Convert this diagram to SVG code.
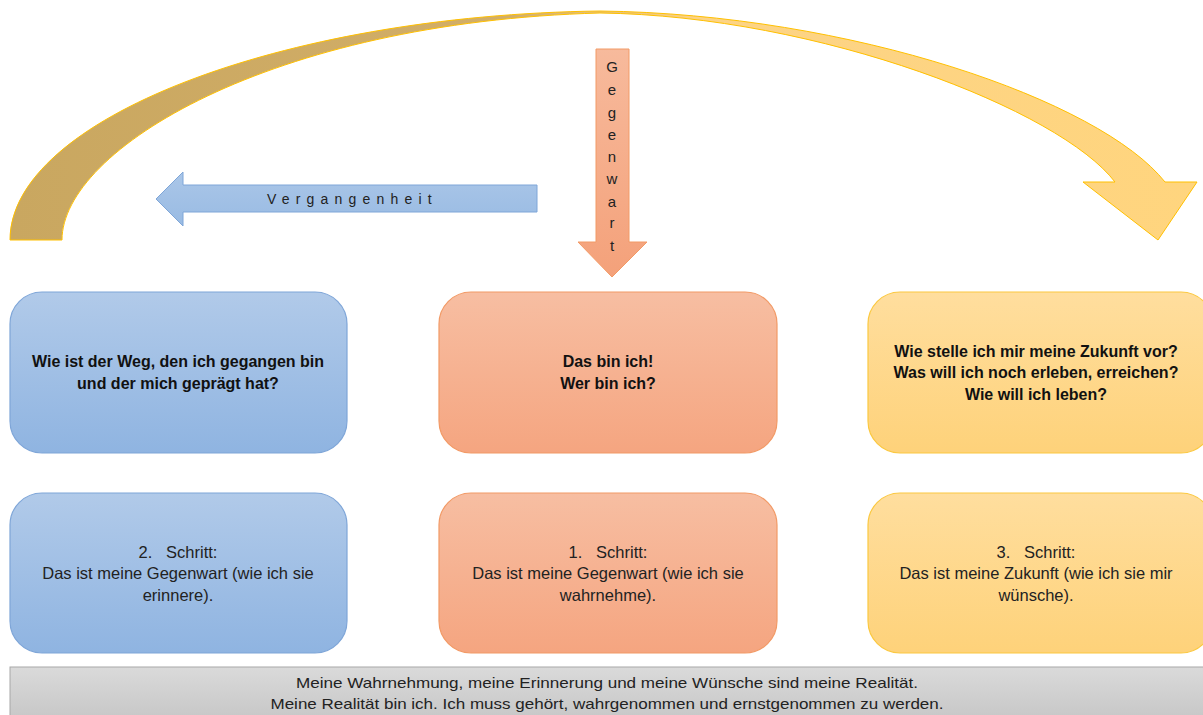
<svg xmlns="http://www.w3.org/2000/svg" width="1203" height="715" viewBox="0 0 1203 715">
<style>
.t{font-family:"Liberation Sans",Arial,sans-serif;fill:#111;text-anchor:middle}
.b{font-weight:bold;font-size:16px}
.r{font-size:16.5px;fill:#222}
.bl{stroke:#7FA6D8;stroke-width:1.2}
.or{stroke:#F29A66;stroke-width:1.2}
.ye{stroke:#FBC840;stroke-width:1.2}
</style>
<defs>
<linearGradient id="gBlue" x1="0" y1="0" x2="0" y2="1"><stop offset="0" stop-color="#B1CAE9"/><stop offset="1" stop-color="#8FB4E1"/></linearGradient>
<linearGradient id="gOr" x1="0" y1="0" x2="0" y2="1"><stop offset="0" stop-color="#F7BEA2"/><stop offset="1" stop-color="#F5A580"/></linearGradient>
<linearGradient id="gYe" x1="0" y1="0" x2="0" y2="1"><stop offset="0" stop-color="#FFDE9E"/><stop offset="1" stop-color="#FED27A"/></linearGradient>
<linearGradient id="gGray" x1="0" y1="0" x2="0" y2="1"><stop offset="0" stop-color="#DADADA"/><stop offset="1" stop-color="#C4C4C4"/></linearGradient>
<linearGradient id="gArc" x1="10" y1="0" x2="1197" y2="0" gradientUnits="userSpaceOnUse"><stop offset="0" stop-color="#C9A760"/><stop offset="0.42" stop-color="#D2AE68"/><stop offset="0.58" stop-color="#FCD386"/><stop offset="1" stop-color="#FFD57E"/></linearGradient>
<linearGradient id="gVer" x1="0" y1="0" x2="0" y2="1"><stop offset="0" stop-color="#AAC6E8"/><stop offset="1" stop-color="#99BBE3"/></linearGradient>
<linearGradient id="gGeg" x1="0" y1="0" x2="0" y2="1"><stop offset="0" stop-color="#F7BA9C"/><stop offset="1" stop-color="#F4A17A"/></linearGradient>
</defs>
<g id="connectors">
<path id="arc" d="M10,240 C10,120 280,15 600,11 C850,14 1100,100 1165,182 L1197,182 L1158,240 L1083,182 L1115,182 C1060,110 820,16 600,13 C270,22 62,150 62,240 Z" fill="url(#gArc)" stroke="#FFC000" stroke-width="1"/>
<g id="vergangenheit">
<path d="M537,185 L183,185 L183,172 L156,199 L183,226 L183,212 L537,212 Z" fill="url(#gVer)" stroke="#7FA6D8" stroke-width="1"/>
<text class="t" x="267" y="204" style="text-anchor:start;font-size:14px;letter-spacing:6.2px;fill:#222">Vergangenheit</text>
</g>
<g id="gegenwart">
<path d="M596,49 L629,49 L629,242 L647,242 L612,277 L578,242 L596,242 Z" fill="url(#gGeg)" stroke="#F29A66" stroke-width="1"/>
<text class="t" style="font-size:15px;fill:#222"><tspan x="612" y="72">G</tspan><tspan x="612" y="95">e</tspan><tspan x="612" y="118">g</tspan><tspan x="612" y="140">e</tspan><tspan x="612" y="162">n</tspan><tspan x="612" y="184">w</tspan><tspan x="612" y="207">a</tspan><tspan x="612" y="228">r</tspan><tspan x="612" y="251">t</tspan></text>
</g>
</g>
<g id="n-past-q">
<rect x="10" y="292" width="337" height="161" rx="32" fill="url(#gBlue)" class="bl"/>
<text class="t b" x="178" y="367">Wie ist der Weg, den ich gegangen bin</text>
<text class="t b" x="178" y="389">und der mich geprägt hat?</text>
</g>
<g id="n-now-q">
<rect x="439" y="292" width="338" height="161" rx="32" fill="url(#gOr)" class="or"/>
<text class="t b" x="608" y="367">Das bin ich!</text>
<text class="t b" x="608" y="389">Wer bin ich?</text>
</g>
<g id="n-future-q">
<rect x="868" y="292" width="345" height="161" rx="32" fill="url(#gYe)" class="ye"/>
<text class="t b" x="1036" y="357">Wie stelle ich mir meine Zukunft vor?</text>
<text class="t b" x="1036" y="378">Was will ich noch erleben, erreichen?</text>
<text class="t b" x="1036" y="400">Wie will ich leben?</text>
</g>
<g id="n-past-step">
<rect x="10" y="493" width="337" height="160" rx="32" fill="url(#gBlue)" class="bl"/>
<text class="t r" x="178" y="558" xml:space="preserve">2.   Schritt:</text>
<text class="t r" x="178" y="579">Das ist meine Gegenwart (wie ich sie</text>
<text class="t r" x="178" y="601">erinnere).</text>
</g>
<g id="n-now-step">
<rect x="439" y="493" width="338" height="160" rx="32" fill="url(#gOr)" class="or"/>
<text class="t r" x="608" y="558" xml:space="preserve">1.   Schritt:</text>
<text class="t r" x="608" y="579">Das ist meine Gegenwart (wie ich sie</text>
<text class="t r" x="608" y="601">wahrnehme).</text>
</g>
<g id="n-future-step">
<rect x="868" y="493" width="345" height="160" rx="32" fill="url(#gYe)" class="ye"/>
<text class="t r" x="1036" y="558" xml:space="preserve">3.   Schritt:</text>
<text class="t r" x="1036" y="579">Das ist meine Zukunft (wie ich sie mir</text>
<text class="t r" x="1036" y="601">wünsche).</text>
</g>
<g id="n-banner">
<rect x="10" y="667" width="1200" height="60" fill="url(#gGray)" stroke="#A8A8A8" stroke-width="1"/>
<text class="t" x="607" y="688" style="font-size:15px;fill:#222" textLength="622" lengthAdjust="spacingAndGlyphs">Meine Wahrnehmung,  meine Erinnerung und meine Wünsche sind meine Realität.</text>
<text class="t" x="607" y="709" style="font-size:15px;fill:#222" textLength="673" lengthAdjust="spacingAndGlyphs">Meine Realität bin ich. Ich muss gehört, wahrgenommen und ernstgenommen zu werden.</text>
</g>
</svg>
